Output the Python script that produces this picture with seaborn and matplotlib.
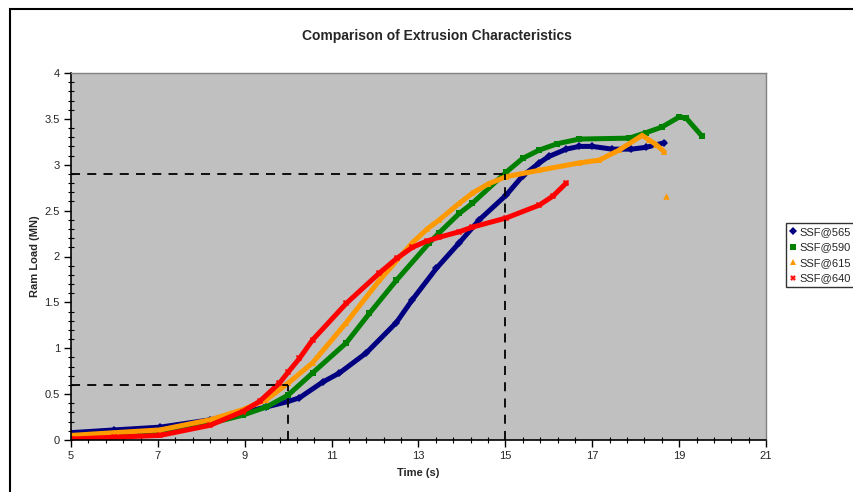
"""
plot.py
---------------------------------------------------------------------
Comparison of extrusion characteristics (ram load vs time)
"""
import numpy as np
import pandas as pd
import matplotlib
matplotlib.use("Agg")
import matplotlib.pyplot as plt
from matplotlib.lines import Line2D
from matplotlib.patches import Rectangle
from matplotlib.ticker import FuncFormatter
import seaborn as sns


SERIES = ["SSF@565", "SSF@590", "SSF@615", "SSF@640"]
COLORS = ["#000080", "#008000", "#FF9900", "#FF0000"]
MARKERS = ["D", "s", "^", "X"]

ssf565_time = [5.0, 6.0, 7.05, 8.2, 8.95, 9.5, 10.0, 10.26, 10.79, 11.18, 11.8, 12.49,
               12.86, 13.41, 13.94, 14.4, 15.02, 15.4, 15.78, 16.0, 16.4, 16.7, 17.0,
               17.46, 17.9, 18.24, 18.66]
ssf565_load = [0.08, 0.11, 0.14, 0.22, 0.30, 0.36, 0.42, 0.46, 0.63, 0.73, 0.95, 1.28,
               1.53, 1.87, 2.15, 2.40, 2.67, 2.88, 3.02, 3.09, 3.17, 3.20, 3.20,
               3.17, 3.17, 3.19, 3.24]

ssf590_time = [5.0, 6.0, 7.05, 8.2, 8.95, 9.5, 10.0, 10.56, 11.34, 11.87, 12.49, 13.25,
               13.48, 13.94, 14.24, 15.02, 15.4, 15.78, 16.2, 16.7, 17.85, 18.24, 18.6,
               19.0, 19.16, 19.53]
ssf590_load = [0.04, 0.06, 0.09, 0.18, 0.27, 0.36, 0.49, 0.73, 1.06, 1.38, 1.74, 2.15,
               2.26, 2.47, 2.58, 2.92, 3.07, 3.16, 3.23, 3.28, 3.29, 3.35, 3.41,
               3.52, 3.51, 3.31]

ssf615_time = [5.0, 6.0, 7.05, 8.2, 8.95, 9.5, 10.0, 10.56, 11.34, 12.1, 12.86, 13.2,
               13.48, 13.94, 14.24, 14.6, 15.02, 15.78, 16.7, 17.16, 17.62, 18.15, 18.31,
               18.47, 18.66]
ssf615_load = [0.05, 0.08, 0.11, 0.22, 0.33, 0.44, 0.62, 0.84, 1.28, 1.74, 2.15, 2.30,
               2.40, 2.58, 2.69, 2.79, 2.87, 2.94, 3.02, 3.05, 3.16, 3.32, 3.27,
               3.22, 3.14]
ssf615_stray_time = [18.7]
ssf615_stray_load = [2.66]

ssf640_time = [5.0, 6.0, 7.05, 8.2, 8.95, 9.34, 9.8, 10.0, 10.26, 10.56, 11.34, 12.1,
               12.5, 12.86, 13.2, 13.48, 13.94, 14.24, 15.02, 15.78, 16.1, 16.4]
ssf640_load = [0.01, 0.03, 0.05, 0.16, 0.31, 0.42, 0.62, 0.74, 0.89, 1.09, 1.49, 1.82,
               1.98, 2.10, 2.17, 2.21, 2.27, 2.32, 2.42, 2.56, 2.66, 2.80]

# dashed guide lines (time, load)
GUIDES = [(10, 0.6), (15, 2.9)]

X_TICKS = [5, 7, 9, 11, 13, 15, 17, 19, 21]
Y_TICKS = [0, 0.5, 1, 1.5, 2, 2.5, 3, 3.5, 4]


def main():
    frames = []
    for name, t, load in zip(SERIES,
                             [ssf565_time, ssf590_time, ssf615_time, ssf640_time],
                             [ssf565_load, ssf590_load, ssf615_load, ssf640_load]):
        frames.append(pd.DataFrame({"time": t, "load": load, "series": name}))
    df = pd.concat(frames, ignore_index=True)

    sns.set_style("white")
    plt.rcParams["font.family"] = ["Liberation Sans", "DejaVu Sans"]

    fig = plt.figure(figsize=(8.54, 4.92), dpi=100)
    ax = fig.add_axes([71 / 854, 1 - 440 / 492, 695 / 854, 367 / 492])
    ax.set_facecolor("#C0C0C0")

    palette = dict(zip(SERIES, COLORS))
    sns.lineplot(data=df, x="time", y="load", hue="series", style="series",
                 palette=palette, markers=dict(zip(SERIES, MARKERS)), dashes=False,
                 estimator=None, sort=False, linewidth=3.6, markersize=4.5,
                 markeredgewidth=0, legend=False, ax=ax)
    sns.scatterplot(x=ssf615_stray_time, y=ssf615_stray_load, color=COLORS[2],
                    marker="^", s=22, linewidth=0, ax=ax)

    for gx, gy in GUIDES:
        ax.plot([5, gx], [gy, gy], color="black", linestyle=(0, (5, 4)), linewidth=1.3)
        ax.plot([gx, gx], [0, gy], color="black", linestyle=(0, (5, 4)), linewidth=1.3)

    ax.set_xlim(5, 21)
    ax.set_ylim(0, 4)
    ax.set_xticks(X_TICKS)
    ax.set_xticks(np.arange(5, 21.01, 0.4), minor=True)
    ax.set_yticks(Y_TICKS)
    ax.set_yticks(np.arange(0, 4.01, 0.1), minor=True)
    ax.yaxis.set_major_formatter(FuncFormatter(lambda v, p: f"{v:g}"))
    ax.tick_params(which="major", direction="out", length=5, width=1, labelsize=8,
                   bottom=True, left=True, color="black", pad=3)
    ax.tick_params(which="minor", direction="inout", length=4, width=0.8,
                   bottom=True, left=True, color="black")

    for side in ["top", "right"]:
        ax.spines[side].set_color("#808080")
        ax.spines[side].set_linewidth(1)
    for side in ["left", "bottom"]:
        ax.spines[side].set_color("black")
        ax.spines[side].set_linewidth(1.2)

    ax.set_xlabel("Time (s)", fontsize=8, fontweight="bold", labelpad=5)
    ax.set_ylabel("Ram Load (MN)", fontsize=8, fontweight="bold")
    ax.yaxis.set_label_coords(-0.045, 0.5)

    fig.text(437 / 854, 1 - 36 / 492, "Comparison of Extrusion Characteristics",
             ha="center", va="center", fontsize=10, fontweight="bold")

    handles = [Line2D([], [], color=c, marker=m, linestyle="none", markersize=4,
                      markeredgewidth=0) for c, m in zip(COLORS, MARKERS)]
    leg = fig.legend(handles, SERIES, loc="upper left",
                     bbox_to_anchor=(786 / 854, 1 - 223 / 492), fontsize=8,
                     frameon=True, fancybox=False, handlelength=0.5,
                     handletextpad=0.35, borderpad=0.35, labelspacing=0.5,
                     borderaxespad=0)
    leg.get_frame().set_edgecolor("black")
    leg.get_frame().set_linewidth(1)

    # outer chart frame
    fig.patches.append(Rectangle((10 / 854, -0.5), 2, 1.5 - 9 / 492,
                                 transform=fig.transFigure, fill=False,
                                 edgecolor="black", linewidth=1.5))

    fig.savefig("out.png", dpi=100)
    plt.close(fig)


if __name__ == "__main__":
    main()
